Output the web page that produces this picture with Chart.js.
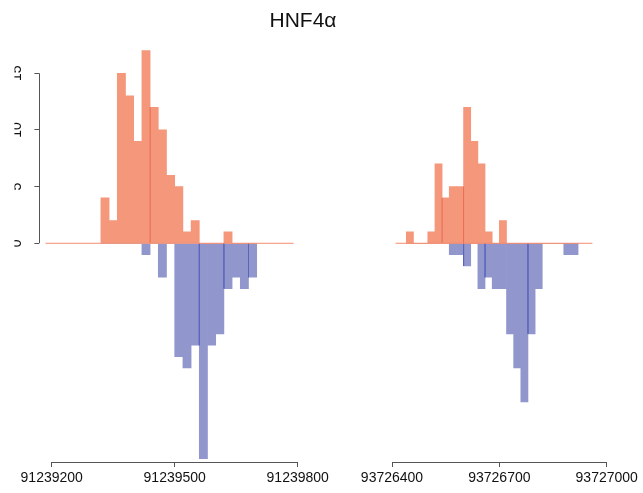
<!DOCTYPE html>
<html><head><meta charset="utf-8">
<script src="https://cdn.jsdelivr.net/npm/chart.js@4/dist/chart.umd.min.js"></script>
<style>
html,body{margin:0;padding:0;background:#fff;}
#wrap{position:relative;width:643px;height:493px;overflow:hidden;background:#fff;}
canvas{position:absolute;left:0;top:0;}
#title{position:absolute;left:0;width:606px;top:8px;text-align:center;font:21px "Liberation Sans",Arial,sans-serif;color:#111;}
</style></head><body>
<div id="wrap">
<canvas id="c1" width="643" height="493"></canvas>
<canvas id="c2" width="643" height="493"></canvas>
<div id="title">HNF4α</div>
</div>
<script>
// ---- data ----
const binWidth = 20;
const yTicks = [0, 5, 10, 15];

const leftBins = [91239320, 91239340, 91239360, 91239380, 91239400, 91239420, 91239440, 91239460, 91239480, 91239500,
                  91239520, 91239540, 91239560, 91239580, 91239600, 91239620, 91239640, 91239660, 91239680];
const leftUp   = [4, 2, 15, 13, 9, 17, 12, 10, 6, 5, 1, 2, 0, 0, 0, 1, 0, 0, 0];
const leftDown = [0, 0, 0, 0, 0, -1, 0, -3, 0, -10, -11, -9, -19, -9, -8, -4, -3, -4, -3];
const leftXTicks = [91239200, 91239500, 91239800];
const leftBaseline = [91239185, 91239790];
// darker bar edges visible in the picture
const leftUpEdgeX = [91239440];
const leftUpEdgeY = [12];
const leftDownEdgeX = [91239560, 91239620, 91239680];
const leftDownEdgeY = [-9, -4, -3];

const rightBins = [93726440, 93726460, 93726480, 93726500, 93726520, 93726540, 93726560, 93726580, 93726600, 93726620,
                   93726640, 93726660, 93726680, 93726700, 93726720, 93726740, 93726760, 93726780, 93726800, 93726820,
                   93726840, 93726860, 93726880, 93726900];
const rightUp   = [1, 0, 0, 1, 7, 4, 5, 5, 12, 9, 7, 1, 0, 2, 0, 0, 0, 0, 0, 0, 0, 0, 0, 0];
const rightDown = [0, 0, 0, 0, 0, 0, -1, -1, -2, 0, -4, -3, -4, -4, -8, -11, -14, -8, -4, 0, 0, 0, -1, -1];
const rightXTicks = [93726400, 93726700, 93727000];
const rightBaseline = [93726410, 93726960];
const rightUpEdgeX = [93726540, 93726600];
const rightUpEdgeY = [4, 5];
const rightDownEdgeX = [93726600, 93726660, 93726780];
const rightDownEdgeY = [-2, -3, -8];

// ---- style ----
const UP_COLOR = 'rgb(244,151,122)';
const DOWN_COLOR = 'rgb(145,151,205)';
const UP_EDGE = 'rgba(232,92,70,0.75)';
const DOWN_EDGE = 'rgba(90,100,185,0.75)';
const LINE_COLOR = 'rgb(244,140,110)';
const AXIS_COLOR = '#555';
Chart.defaults.font.family = "'Liberation Sans', Arial, Helvetica, sans-serif";
Chart.defaults.color = '#111';

const axisLines = {
  id: 'axisLines',
  afterDraw(chart, args, opts) {
    const ctx = chart.ctx, xs = chart.scales.x, ys = chart.scales.y;
    ctx.save();
    ctx.strokeStyle = AXIS_COLOR;
    ctx.lineWidth = 1;
    const xt = xs.ticks;
    const yb = Math.round(chart.chartArea.bottom) + 0.5;
    ctx.beginPath();
    ctx.moveTo(xs.getPixelForValue(xt[0].value), yb);
    ctx.lineTo(xs.getPixelForValue(xt[xt.length - 1].value), yb);
    ctx.stroke();
    if (opts.yAxis) {
      const xl = Math.round(chart.chartArea.left) + 0.5;
      ctx.beginPath();
      ctx.moveTo(xl, ys.getPixelForValue(yTicks[0]));
      ctx.lineTo(xl, ys.getPixelForValue(yTicks[yTicks.length - 1]));
      ctx.stroke();
    }
    ctx.restore();
  }
};

function edgeData(xs, ys) {
  const out = [];
  xs.forEach((x, i) => { out.push({x, y: 0}, {x, y: ys[i]}, {x, y: null}); });
  return out;
}

function makeChart(id, bins, up, down, upEx, upEy, dnEx, dnEy, xTicks, baseline, xMin, xMax, padding, showY) {
  const center = b => b + binWidth / 2;
  return new Chart(document.getElementById(id), {
    type: 'bar',
    data: {
      datasets: [
        { type: 'line', data: baseline.map(x => ({x, y: 0})), borderColor: LINE_COLOR, borderWidth: 1,
          pointRadius: 0, order: -2 },
        { type: 'line', data: edgeData(upEx, upEy), borderColor: UP_EDGE, borderWidth: 1,
          pointRadius: 0, spanGaps: false, order: -1 },
        { type: 'line', data: edgeData(dnEx, dnEy), borderColor: DOWN_EDGE, borderWidth: 1,
          pointRadius: 0, spanGaps: false, order: -1 },
        { data: bins.map((b, i) => ({x: center(b), y: up[i]})), backgroundColor: UP_COLOR,
          borderWidth: 0, grouped: false, barPercentage: 1, categoryPercentage: 1 },
        { data: bins.map((b, i) => ({x: center(b), y: down[i]})), backgroundColor: DOWN_COLOR,
          borderWidth: 0, grouped: false, barPercentage: 1, categoryPercentage: 1 }
      ]
    },
    options: {
      responsive: false,
      devicePixelRatio: 1,
      animation: false,
      layout: { padding },
      plugins: { legend: { display: false }, tooltip: { enabled: false }, title: { display: false },
                 axisLines: { yAxis: showY } },
      scales: {
        x: {
          type: 'linear', min: xMin, max: xMax, offset: false,
          afterFit: s => { s.height = 31; },
          afterBuildTicks: s => { s.ticks = xTicks.map(v => ({value: v})); },
          ticks: { font: { size: 14 }, color: '#111', padding: 3, maxRotation: 0, minRotation: 0,
                   autoSkip: false, callback: v => String(v) },
          grid: { offset: false, drawOnChartArea: false, drawTicks: true, tickLength: 5, color: AXIS_COLOR },
          border: { display: false }
        },
        y: {
          display: showY, min: -19.3, max: 18.5,
          afterFit: s => { s.width = 25; },
          afterBuildTicks: s => { s.ticks = yTicks.map(v => ({value: v})); },
          ticks: { font: { size: 14 }, color: '#111', minRotation: 90, maxRotation: 90,
                   crossAlign: 'center', padding: 9, autoSkip: false },
          grid: { offset: false, drawOnChartArea: false, drawTicks: true, tickLength: 5, color: AXIS_COLOR },
          border: { display: false }
        }
      }
    },
    plugins: [axisLines]
  });
}

makeChart('c1', leftBins, leftUp, leftDown, leftUpEdgeX, leftUpEdgeY, leftDownEdgeX, leftDownEdgeY,
          leftXTicks, leftBaseline, 91239170, 91239800,
          { left: 14.4, right: 345.3, top: 33.6, bottom: 0 }, true);
makeChart('c2', rightBins, rightUp, rightDown, rightUpEdgeX, rightUpEdgeY, rightDownEdgeX, rightDownEdgeY,
          rightXTicks, rightBaseline, 93726400, 93727000,
          { left: 367, right: 36.3, top: 33.6, bottom: 0 }, false);
</script>
</body></html>
